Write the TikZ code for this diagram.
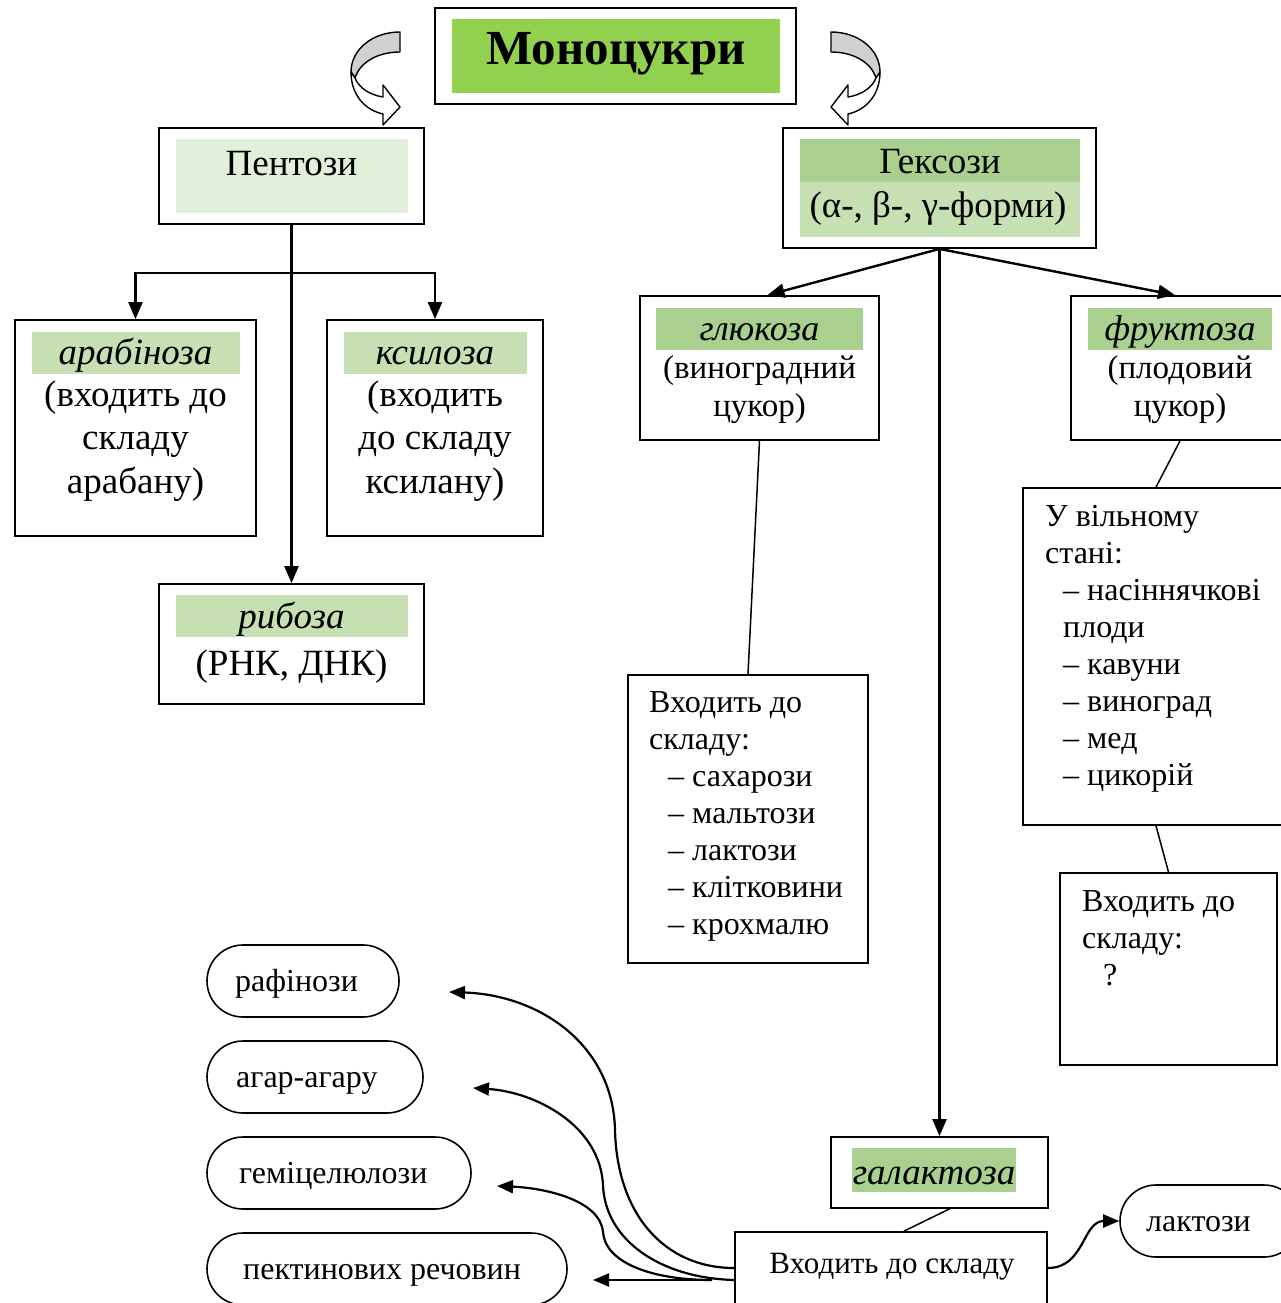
\documentclass[tikz,border=0pt]{standalone}
\usepackage{fontspec}
\setmainfont{Liberation Serif}
\usetikzlibrary{arrows.meta}

\definecolor{titlegreen}{HTML}{92D050}
\definecolor{palegreen}{HTML}{E2EFDA}
\definecolor{lightgreen}{HTML}{C6E0B4}
\definecolor{midgreen}{HTML}{A9D08E}
\definecolor{bandgrey}{HTML}{D0D0D0}

\newcommand{\setfs}[2]{\fontsize{#1}{#2}\selectfont}

% curled block arrow (drawn for the left side, mirrored for the right)
\newcommand{\curlshape}{%
  \filldraw[fill=bandgrey, line width=1.4pt, line join=round]
    (400,32) .. controls (372,32) and (351,50) .. (351,72)
    -- (355,78) .. controls (360,62) and (378,52) .. (400,52) -- cycle;
  \filldraw[fill=white, line width=1.4pt, line join=round]
    (351,72) .. controls (351,95) and (365,110) .. (383,114)
    -- (383,125) -- (400,107) -- (383,85) -- (383,97)
    .. controls (370,95) and (359,88) .. (355,78) -- cycle;
}

\tikzset{
  box/.style={draw, line width=1.8pt, rectangle, inner sep=0pt},
  oval/.style={draw, line width=1.6pt, rectangle, rounded corners=36pt, inner sep=0pt},
  txt/.style={inner sep=0pt, anchor=base},
  ltxt/.style={inner sep=0pt, anchor=base west, align=left},
  link/.style={line width=2.4pt, -{Triangle[length=17pt,width=14pt]}},
  curvelink/.style={line width=2.2pt, -{Triangle[length=16pt,width=13pt]}},
  plain/.style={line width=1.5pt},
}

\begin{document}
\begin{tikzpicture}[x=1pt, y=-1pt]
\useasboundingbox (0,0) rectangle (1281,1303);
\clip (0,0) rectangle (1281,1303);

% ---------- boxes ----------
\node[box, minimum width=361pt, minimum height=96pt] (title) at (615.5,56) {};
\node[box, minimum width=265pt, minimum height=96pt] (pent) at (291.5,176) {};
\node[box, minimum width=241pt, minimum height=216pt] (arab) at (135.5,428) {};
\node[box, minimum width=216pt, minimum height=216pt] (xyl) at (435,428) {};
\node[box, minimum width=265pt, minimum height=120pt] (rib) at (291.5,644) {};
\node[box, minimum width=313pt, minimum height=120pt] (hex) at (939.5,188) {};
\node[box, minimum width=239pt, minimum height=144pt] (glu) at (759.5,368) {};
\node[box, minimum width=214pt, minimum height=144pt] (fru) at (1178,368) {};
\node[box, minimum width=240pt, minimum height=288pt] (glist) at (748,819) {};
\node[box, minimum width=266pt, minimum height=337pt] (free) at (1156,656.5) {};
\node[box, minimum width=217pt, minimum height=192pt] (fuse) at (1168.5,969) {};
\node[box, minimum width=217pt, minimum height=71pt] (gal) at (939.5,1172.5) {};
\node[box, minimum width=312pt, minimum height=108pt] (galuse) at (891,1286) {};

\node[oval, minimum width=192pt, minimum height=72pt] (raf) at (303,981) {};
\node[oval, minimum width=216pt, minimum height=72pt] (agar) at (315,1077) {};
\node[oval, minimum width=264pt, minimum height=72pt] (hemi) at (339,1173) {};
\node[oval, minimum width=360pt, minimum height=72pt] (pect) at (387,1269) {};
\node[oval, minimum width=180pt, minimum height=72pt] (lact) at (1210,1221) {};

% ---------- coloured bands ----------
\fill[titlegreen] (452,19) rectangle (780,93);
\fill[palegreen] (176,139) rectangle (408,213);
\fill[lightgreen] (32,332) rectangle (240,374);
\fill[lightgreen] (344,332) rectangle (527,374);
\fill[lightgreen] (176,595) rectangle (408,637);
\fill[midgreen] (800,139) rectangle (1080,182);
\fill[lightgreen] (800,182) rectangle (1080,237);
\fill[midgreen] (656,308) rectangle (863,350);
\fill[midgreen] (1088,308) rectangle (1272,350);
\fill[midgreen] (852,1148) rectangle (1016,1192);

% ---------- curled arrows beside the title ----------
\curlshape
\begin{scope}[xshift=1231pt, xscale=-1]
  \curlshape
\end{scope}

% ---------- texts (multi-line nodes are anchored at their last baseline) ----------
\node[txt, font=\bfseries\setfs{49}{56}] (ttltxt) at (616,65) {Моноцукри};
\node[txt, font=\setfs{37}{43.5}] (penttxt) at (291.5,175) {Пентози};

\node[txt, font=\itshape\setfs{37}{43.5}] (arabname) at (135.5,364) {арабіноза};
\node[txt, align=center, font=\setfs{37}{43.5}] (arabtxt) at (135.5,493) {(входить до\\складу\\арабану)};
\node[txt, font=\itshape\setfs{37}{43.5}] (xylname) at (435,364) {ксилоза};
\node[txt, align=center, font=\setfs{37}{43.5}] (xyltxt) at (435,493) {(входить\\до складу\\ксилану)};
\node[txt, font=\itshape\setfs{37}{43.5}] (ribname) at (291.5,628) {рибоза};
\node[txt, font=\setfs{37}{43.5}] (ribtxt) at (291.5,675) {(РНК, ДНК)};

\node[txt, font=\setfs{37}{43.5}] (hexname) at (940,173) {Гексози};
\node[txt, font=\setfs{37}{43.5}] (hextxt) at (938,217) {(α-, β-, γ-форми)};

\node[txt, font=\itshape\setfs{36}{40}] (gluname) at (759.5,340) {глюкоза};
\node[txt, align=center, font=\setfs{33}{37.5}] (glutxt) at (759.5,416) {(виноградний\\цукор)};
\node[txt, font=\itshape\setfs{36}{40}] (fruname) at (1180,340) {фруктоза};
\node[txt, align=center, font=\setfs{33}{37.5}] (frutxt) at (1180,416) {(плодовий\\цукор)};

\node[ltxt, font=\setfs{32}{37}] (glisttxt) at (649,934)
  {Входить до\\складу:\\\hspace*{19pt}– сахарози\\\hspace*{19pt}– мальтози\\\hspace*{19pt}– лактози\\\hspace*{19pt}– клітковини\\\hspace*{19pt}– крохмалю};
\node[ltxt, font=\setfs{32}{37}] (freetxt) at (1045,785)
  {У вільному\\стані:\\\hspace*{18pt}– насіннячкові\\\hspace*{18pt}плоди\\\hspace*{18pt}– кавуни\\\hspace*{18pt}– виноград\\\hspace*{18pt}– мед\\\hspace*{18pt}– цикорій};
\node[ltxt, font=\setfs{32}{37}] (fusetxt) at (1082,985)
  {Входить до\\складу:\\\hspace*{21pt}?};

\node[txt, font=\itshape\setfs{37}{43.5}] (galname) at (934,1184) {галактоза};
\node[txt, font=\setfs{31}{36}] (galusetxt) at (892,1273) {Входить до складу};

\node[ltxt, font=\setfs{32}{37}] (raftxt) at (235,991) {рафінози};
\node[ltxt, font=\setfs{32}{37}] (agartxt) at (236,1087) {агар-агару};
\node[ltxt, font=\setfs{32}{37}] (hemitxt) at (239,1183) {геміцелюлози};
\node[ltxt, font=\setfs{32}{37}] (pecttxt) at (243,1279) {пектинових речовин};
\node[ltxt, font=\setfs{32}{37}] (lacttxt) at (1146,1231) {лактози};

% ---------- connectors ----------
\draw[link] (pent.south) -- (rib.north);
\draw[link] (pent.south) ++(0,48) -| (arab.north);
\draw[link] (pent.south) ++(0,48) -| (xyl.north);

\draw[link] (hex.south) -- ([xshift=8pt]glu.north);
\draw[link] (hex.south) -- ([xshift=-3pt]fru.north);
\draw[link] (hex.south) -- (gal.north);

\draw[plain] (glu.south) -- (glist.north);
\draw[plain] ([xshift=2pt]fru.south) -- (free.north);
\draw[plain] (free.south) -- (fuse.north);
\draw[plain] ([xshift=10pt]gal.south) -- ([xshift=13pt]galuse.north);

\draw[curvelink] ([yshift=18pt]galuse.east) to[out=0, in=180, looseness=1.1] (lact.west);

\coordinate (rafend) at (449,992);
\coordinate (agarend) at (473,1088);
\coordinate (hemiend) at (497,1186);
\coordinate (pectstart) at (712,1280);
\coordinate (pectend) at (593,1280);

\draw[curvelink] ([yshift=18pt]galuse.west)
  .. controls (665,1268) and (617,1215) .. (615,1130)
  .. controls (613,1045) and (540,995) .. (rafend);
\draw[curvelink] ([yshift=6pt]galuse.west)
  .. controls (660,1278) and (605,1240) .. (603,1185)
  .. controls (600,1125) and (535,1092) .. (agarend);
\draw[curvelink] (pectstart)
  .. controls (650,1280) and (605,1262) .. (603,1232)
  .. controls (600,1200) and (545,1188) .. (hemiend);
\draw[curvelink] (pectstart) -- (pectend);
\end{tikzpicture}
\end{document}
